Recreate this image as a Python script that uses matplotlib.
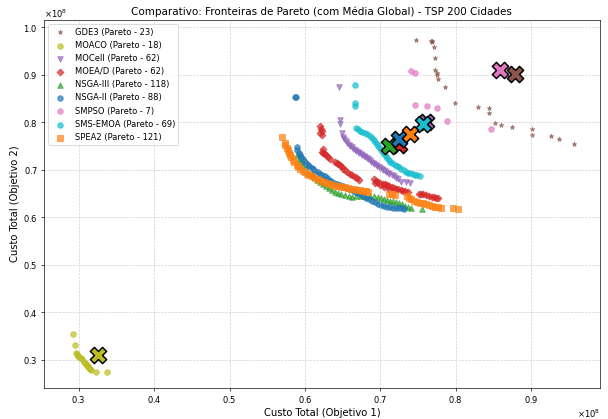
import numpy as np
import matplotlib
matplotlib.use('Agg')
import matplotlib.pyplot as plt

# valores em unidades de 1e8
gde3_x = [0.7475, 0.7692, 0.7688, 0.7675, 0.7711, 0.7719, 0.7728, 0.7754, 0.7758, 0.7764, 0.7861, 0.7989,
          0.8295, 0.8441, 0.8445, 0.8521, 0.8600, 0.8741, 0.9012, 0.9012, 0.9259, 0.9375, 0.9574]
gde3_y = [0.972, 0.971, 0.968, 0.970, 0.959, 0.936, 0.909, 0.903, 0.899, 0.890, 0.875, 0.840,
          0.833, 0.830, 0.819, 0.798, 0.794, 0.789, 0.786, 0.773, 0.770, 0.764, 0.754]

moaco_x = [0.2924, 0.2951, 0.2960, 0.2977, 0.2987, 0.3004, 0.3027, 0.3040, 0.3066, 0.3080, 0.3093, 0.3106,
           0.3120, 0.3133, 0.3146, 0.3159, 0.3226, 0.3376]
moaco_y = [0.3536, 0.3313, 0.3145, 0.3116, 0.3088, 0.3061, 0.3036, 0.3019, 0.2947, 0.2931, 0.2906, 0.2878,
           0.2863, 0.2836, 0.2809, 0.2794, 0.2746, 0.2746]

mocell_x = [0.645, 0.646, 0.647, 0.649, 0.650, 0.652, 0.654, 0.656, 0.658, 0.660, 0.662, 0.664, 0.666, 0.668,
            0.670, 0.672, 0.674, 0.676, 0.678, 0.680, 0.682, 0.684, 0.686, 0.688, 0.690, 0.692, 0.694, 0.696,
            0.698, 0.700, 0.702, 0.704, 0.706, 0.708, 0.710, 0.712, 0.715, 0.718, 0.721, 0.724, 0.728, 0.734,
            0.740]
mocell_y = [0.873, 0.804, 0.797, 0.778, 0.768, 0.764, 0.761, 0.757, 0.753, 0.750, 0.748, 0.744, 0.742, 0.740,
            0.737, 0.736, 0.733, 0.731, 0.729, 0.726, 0.724, 0.722, 0.720, 0.717, 0.715, 0.713, 0.711, 0.708,
            0.706, 0.704, 0.702, 0.699, 0.697, 0.695, 0.693, 0.691, 0.688, 0.686, 0.683, 0.680, 0.675, 0.675,
            0.673]

moead_x = [0.620, 0.621, 0.622, 0.620, 0.622, 0.624, 0.622, 0.624, 0.626, 0.628, 0.631, 0.633,
           0.640, 0.642, 0.644, 0.647, 0.649, 0.651, 0.653, 0.656, 0.660, 0.663, 0.666, 0.669, 0.672,
           0.691, 0.693, 0.694, 0.697, 0.699, 0.700, 0.703, 0.705, 0.706, 0.709, 0.711, 0.712, 0.715, 0.718,
           0.721, 0.724, 0.727, 0.730, 0.733, 0.737,
           0.751, 0.754, 0.757, 0.761, 0.764, 0.768, 0.771, 0.774, 0.777]
moead_y = [0.791, 0.786, 0.781, 0.778, 0.774, 0.743, 0.738, 0.735, 0.733, 0.730, 0.727, 0.722,
           0.717, 0.715, 0.712, 0.709, 0.706, 0.702, 0.699, 0.696, 0.692, 0.689, 0.685, 0.682, 0.679,
           0.680, 0.673, 0.677, 0.675, 0.668, 0.673, 0.671, 0.664, 0.669, 0.667, 0.660, 0.665, 0.663, 0.662,
           0.660, 0.659, 0.657, 0.656, 0.655, 0.654,
           0.650, 0.649, 0.648, 0.646, 0.645, 0.643, 0.642, 0.641, 0.640]

nsga3_x = [0.590, 0.592, 0.594, 0.597, 0.600, 0.603, 0.606, 0.609, 0.612, 0.616, 0.620, 0.624, 0.628, 0.632,
           0.636, 0.640, 0.644, 0.648, 0.653, 0.658, 0.663, 0.668, 0.674, 0.680, 0.686, 0.692, 0.697, 0.701,
           0.705, 0.709, 0.713, 0.717, 0.721, 0.725, 0.729, 0.733, 0.737, 0.741, 0.755]
nsga3_y = [0.730, 0.722, 0.716, 0.709, 0.703, 0.697, 0.692, 0.688, 0.684, 0.679, 0.674, 0.669, 0.665, 0.661,
           0.657, 0.654, 0.651, 0.648, 0.646, 0.644, 0.643, 0.645, 0.645, 0.644, 0.645, 0.644, 0.643, 0.641,
           0.639, 0.637, 0.635, 0.634, 0.632, 0.630, 0.627, 0.624, 0.621, 0.619, 0.617]

nsga2_x = [0.587, 0.588, 0.589, 0.590, 0.592, 0.593, 0.595, 0.597, 0.599, 0.601, 0.604, 0.606, 0.609, 0.611,
           0.614, 0.617, 0.620, 0.623, 0.626, 0.629, 0.632, 0.635, 0.639, 0.642, 0.646, 0.650, 0.654, 0.658,
           0.662, 0.666, 0.670, 0.673, 0.677, 0.681, 0.685, 0.689, 0.693, 0.697, 0.701, 0.705, 0.709, 0.713,
           0.717, 0.721, 0.725, 0.729, 0.732]
nsga2_y = [0.852, 0.853, 0.748, 0.742, 0.736, 0.731, 0.726, 0.722, 0.718, 0.715, 0.711, 0.707, 0.704, 0.701,
           0.698, 0.695, 0.692, 0.689, 0.686, 0.682, 0.679, 0.676, 0.672, 0.670, 0.667, 0.665, 0.662, 0.659,
           0.657, 0.654, 0.651, 0.648, 0.645, 0.641, 0.638, 0.635, 0.632, 0.628, 0.626, 0.624, 0.622, 0.621,
           0.620, 0.620, 0.619, 0.619, 0.618]

smpso_x = [0.7413, 0.7462, 0.7466, 0.7622, 0.7754, 0.7891, 0.8471]
smpso_y = [0.908, 0.904, 0.8355, 0.8334, 0.8292, 0.8025, 0.7851]

smsemoa_x = [0.666, 0.666, 0.667, 0.668, 0.670, 0.673, 0.676, 0.680, 0.683, 0.686, 0.689, 0.691, 0.693, 0.695,
             0.697, 0.699, 0.701, 0.703, 0.705, 0.707, 0.709, 0.711, 0.713, 0.716, 0.719, 0.722, 0.725, 0.728,
             0.731, 0.734, 0.737, 0.740, 0.743, 0.746, 0.749, 0.752]
smsemoa_y = [0.879, 0.840, 0.834, 0.788, 0.785, 0.782, 0.780, 0.778, 0.775, 0.771, 0.766, 0.762, 0.758, 0.754,
             0.750, 0.746, 0.742, 0.737, 0.733, 0.729, 0.725, 0.721, 0.717, 0.714, 0.711, 0.708, 0.705, 0.702,
             0.699, 0.696, 0.694, 0.693, 0.691, 0.689, 0.688, 0.687]

spea2_x = [0.570, 0.573, 0.574, 0.576, 0.577, 0.579, 0.580, 0.582, 0.584, 0.586, 0.589, 0.591, 0.594, 0.597,
           0.600, 0.603, 0.606, 0.609, 0.613, 0.617, 0.621, 0.625, 0.629, 0.633, 0.637, 0.641, 0.645, 0.649,
           0.653, 0.657, 0.661, 0.665, 0.669, 0.673, 0.677, 0.681, 0.684, 0.712, 0.716, 0.719, 0.735, 0.738,
           0.741, 0.745, 0.749, 0.753, 0.757, 0.761, 0.765, 0.769, 0.773, 0.777, 0.780, 0.796, 0.803]
spea2_y = [0.768, 0.757, 0.752, 0.746, 0.741, 0.736, 0.731, 0.726, 0.721, 0.716, 0.710, 0.706, 0.702, 0.698,
           0.695, 0.692, 0.689, 0.686, 0.683, 0.680, 0.677, 0.674, 0.672, 0.669, 0.668, 0.666, 0.665, 0.664,
           0.663, 0.662, 0.660, 0.659, 0.658, 0.657, 0.656, 0.655, 0.654, 0.649, 0.648, 0.647, 0.644, 0.641,
           0.638, 0.635, 0.633, 0.631, 0.630, 0.628, 0.626, 0.624, 0.622, 0.621, 0.620, 0.620, 0.617]

nomes = ['GDE3', 'MOACO', 'MOCell', 'MOEA/D', 'NSGA-III', 'NSGA-II', 'SMPSO', 'SMS-EMOA', 'SPEA2']
n_pareto = [23, 18, 62, 62, 118, 88, 7, 69, 121]
media_x = [0.879, 0.326, 0.761, 0.725, 0.712, 0.725, 0.859, 0.757, 0.740]
media_y = [0.902, 0.311, 0.800, 0.752, 0.750, 0.765, 0.910, 0.796, 0.775]

xs = [gde3_x, moaco_x, mocell_x, moead_x, nsga3_x, nsga2_x, smpso_x, smsemoa_x, spea2_x]
ys = [gde3_y, moaco_y, mocell_y, moead_y, nsga3_y, nsga2_y, smpso_y, smsemoa_y, spea2_y]
cores = ['#8c564b', '#bcbd22', '#9467bd', '#d62728', '#2ca02c', '#1f77b4', '#e377c2', '#17becf', '#ff7f0e']
marcadores = ['*', 'o', 'v', 'D', '^', 'o', 'o', 'o', 's']
tamanhos = [30, 45, 45, 35, 45, 45, 45, 45, 42]

fig, ax = plt.subplots(figsize=(608 / 60, 419 / 60), dpi=60)
for i in range(len(nomes)):
    ax.scatter(np.array(xs[i]) * 1e8, np.array(ys[i]) * 1e8, c=cores[i], marker=marcadores[i],
               s=tamanhos[i], alpha=0.7, label='%s (Pareto - %d)' % (nomes[i], n_pareto[i]))
for i in range(len(nomes)):
    ax.scatter(media_x[i] * 1e8, media_y[i] * 1e8, c=cores[i], marker='X', s=380,
               edgecolors='black', linewidths=1.8, zorder=5)

ax.ticklabel_format(style='sci', scilimits=(8, 8), useMathText=True)
ax.set_xlim(0.2535e8, 0.9916e8)
ax.set_ylim(0.241e8, 1.0147e8)
ax.set_title('Comparativo: Fronteiras de Pareto (com Média Global) - TSP 200 Cidades', fontsize=12.5)
ax.set_xlabel('Custo Total (Objetivo 1)', fontsize=12)
ax.set_ylabel('Custo Total (Objetivo 2)', fontsize=12)
ax.grid(True, linestyle='--', alpha=0.6)
ax.legend(loc='upper left', fontsize=10)
plt.subplots_adjust(left=0.072, right=0.987, bottom=0.074, top=0.952)
plt.savefig('out.png')
